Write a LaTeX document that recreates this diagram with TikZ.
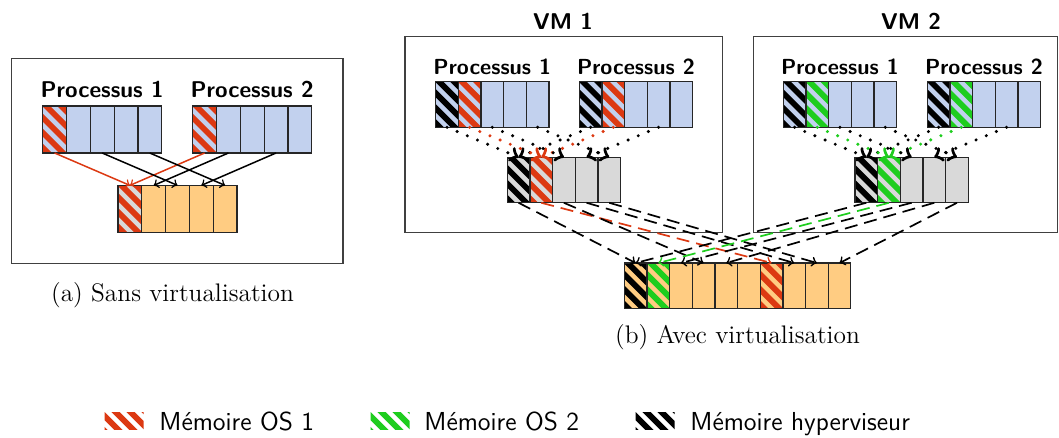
\documentclass[tikz,border=0pt]{standalone}
\usepackage{fontspec}
\usetikzlibrary{calc}

\definecolor{cellblue}{RGB}{194,209,238}
\definecolor{cellorange}{RGB}{255,204,130}
\definecolor{cellgray}{RGB}{217,217,217}
\definecolor{osred}{RGB}{220,57,18}
\definecolor{osgreen}{RGB}{30,205,30}

% diagonal stripes inside a node, clipped to its rectangle
\newcommand\stripesin[2]{%
  \begin{scope}
    \clip (#1.south west) rectangle (#1.north east);
    \foreach \s in {-5,...,5}
      \draw[#2, line width=2.9pt]
        ($(#1.center)+(\s*7.5pt-25pt,25pt)$) -- ++(50pt,-50pt);
  \end{scope}}
% striped memory cell: stripes, then the outline again
\newcommand\hatchcell[2]{%
  \stripesin{#1}{#2}%
  \draw[cellborder] (#1.south west) rectangle (#1.north east);}

\begin{document}
\begin{tikzpicture}[x=0.5pt,y=-0.5pt,
  cellborder/.style={draw=black!85, line width=0.6pt},
  cella/.style={cellborder, minimum width=11.9pt, minimum height=23.5pt, inner sep=0pt, outer sep=0pt},
  cellb/.style={cellborder, minimum width=11.33pt, minimum height=22.8pt, inner sep=0pt, outer sep=0pt},
  frame/.style={draw=black!75, line width=0.6pt},
  lbla/.style={font=\fontsize{11.4}{13}\selectfont\sffamily\bfseries, inner sep=0pt, anchor=base},
  lblb/.style={font=\fontsize{10.9}{13}\selectfont\sffamily\bfseries, inner sep=0pt, anchor=base},
  caption/.style={font=\fontsize{12.7}{15}\selectfont, inner sep=0pt, anchor=base},
  legtext/.style={font=\fontsize{13}{15}\selectfont\sffamily, inner sep=0pt, anchor=base west},
  legicon/.style={minimum width=19.5pt, minimum height=8.5pt, inner sep=0pt, outer sep=0pt},
  solidarr/.style={->, line width=0.75pt},
  dotarr/.style={->, line width=1.7pt, dash pattern=on 0pt off 5.5pt, line cap=round},
  dasharr/.style={->, line width=0.85pt, dash pattern=on 6.5pt off 3.5pt}]
\useasboundingbox (0,0) rectangle (1059,438);

% ---------- (a) without virtualisation ----------
\draw[frame] (11.3,58.3) rectangle (343,263.3);
\node[lbla] (la1) at (102.2,98) {Processus 1};
\node[lbla] (la2) at (252.2,98) {Processus 2};
\foreach \k in {0,...,4} {
  \node[cella, fill=cellblue] (a1c\k) at ({54.6+23.8*\k},129.5) {};
  \node[cella, fill=cellblue] (a2c\k) at ({204.6+23.8*\k},129.5) {};
}
\node[cella, fill=cellgray] (am0) at (129.9,208.9) {};
\foreach \k in {1,...,4}
  \node[cella, fill=cellorange] (am\k) at ({129.9+23.8*\k},208.9) {};
\hatchcell{a1c0}{osred}
\hatchcell{a2c0}{osred}
\hatchcell{am0}{osred}

\draw[solidarr, osred] (a1c0.south) -- (am0.north);
\draw[solidarr, osred] (a2c0.south) -- (am0.north);
\draw[solidarr] (a1c2.south) -- (am2.north);
\draw[solidarr] (a1c4.south) -- (am4.north);
\draw[solidarr] (a2c1.south) -- (am1.north);
\draw[solidarr] (a2c3.south) -- (am3.north);

\node[caption] (capa) at (172.5,301) {(a) Sans virtualisation};

% ---------- (b) with virtualisation ----------
\draw[frame] (405,36.5) rectangle (722.7,232.7);
\draw[frame] (753.3,36.5) rectangle (1057.5,232.7);
\node[lbla] (vm1) at (563,30) {VM 1};
\node[lbla] (vm2) at (911,30) {VM 2};
\node[lblb] (lb11) at (492.3,75) {Processus 1};
\node[lblb] (lb12) at (635.9,75) {Processus 2};
\node[lblb] (lb21) at (839.9,75) {Processus 1};
\node[lblb] (lb22) at (983.9,75) {Processus 2};

\foreach \k in {0,...,4} {
  \node[cellb, fill=cellblue] (v1p1c\k) at ({447.0+22.66*\k},104.5) {};
  \node[cellb, fill=cellblue] (v1p2c\k) at ({590.6+22.66*\k},104.5) {};
  \node[cellb, fill=cellblue] (v2p1c\k) at ({794.6+22.66*\k},104.5) {};
  \node[cellb, fill=cellblue] (v2p2c\k) at ({938.6+22.66*\k},104.5) {};
  \node[cellb, fill=cellgray] (g1c\k) at ({518.6+22.66*\k},180) {};
  \node[cellb, fill=cellgray] (g2c\k) at ({866.3+22.66*\k},180) {};
}
\foreach \k in {0,...,9}
  \node[cellb, fill=cellorange] (h\k) at ({635.6+22.66*\k},285.8) {};

\hatchcell{v1p1c0}{black}  \hatchcell{v1p1c1}{osred}
\hatchcell{v1p2c0}{black}  \hatchcell{v1p2c1}{osred}
\hatchcell{g1c0}{black}    \hatchcell{g1c1}{osred}
\hatchcell{v2p1c0}{black}  \hatchcell{v2p1c1}{osgreen}
\hatchcell{v2p2c0}{black}  \hatchcell{v2p2c1}{osgreen}
\hatchcell{g2c0}{black}    \hatchcell{g2c1}{osgreen}
\hatchcell{h0}{black} \hatchcell{h1}{osgreen} \hatchcell{h6}{osred}

% process pages -> guest memory
\draw[dotarr] (v1p1c0.south) -- (g1c0.north);
\draw[dotarr] (v1p2c0.south) -- (g1c0.north);
\draw[dotarr, osred] (v1p1c1.south) -- (g1c1.north);
\draw[dotarr, osred] (v1p2c1.south) -- (g1c1.north);
\draw[dotarr] (v1p1c2.south) -- (g1c2.north);
\draw[dotarr] (v1p2c3.south) -- (g1c3.north);
\draw[dotarr] (v1p1c4.south) -- (g1c4.north);

\draw[dotarr] (v2p1c0.south) -- (g2c0.north);
\draw[dotarr] (v2p2c0.south) -- (g2c0.north);
\draw[dotarr, osgreen] (v2p1c1.south) -- (g2c1.north);
\draw[dotarr, osgreen] (v2p2c1.south) -- (g2c1.north);
\draw[dotarr] (v2p1c2.south) -- (g2c2.north);
\draw[dotarr] (v2p2c3.south) -- (g2c3.north);
\draw[dotarr] (v2p1c4.south) -- (g2c4.north);

% guest memory -> host memory
\draw[dasharr] (g1c0.south) -- (h0.north);
\draw[dasharr, osred] (g1c1.south) -- (h6.north);
\draw[dasharr] (g1c2.south) -- (h3.north);
\draw[dasharr] (g1c3.south) -- (h7.north);
\draw[dasharr] (g1c4.south) -- (h8.north);
\draw[dasharr] (g2c0.south) -- (h0.north);
\draw[dasharr, osgreen] (g2c1.south) -- (h1.north);
\draw[dasharr] (g2c2.south) -- (h2.north);
\draw[dasharr] (g2c3.south) -- (h4.north);
\draw[dasharr] (g2c4.south) -- (h9.north);

\node[caption] (capb) at (737.5,343) {(b) Avec virtualisation};

% ---------- legend ----------
\node[legicon] (ic1) at (124,420.5) {};
\node[legicon] (ic2) at (390,420.5) {};
\node[legicon] (ic3) at (655,420.5) {};
\stripesin{ic1}{osred}
\stripesin{ic2}{osgreen}
\stripesin{ic3}{black}
\node[legtext] (lt1) at (159,430) {Mémoire OS 1};
\node[legtext] (lt2) at (424,430) {Mémoire OS 2};
\node[legtext] (lt3) at (690,430) {Mémoire hyperviseur};
\end{tikzpicture}
\end{document}
